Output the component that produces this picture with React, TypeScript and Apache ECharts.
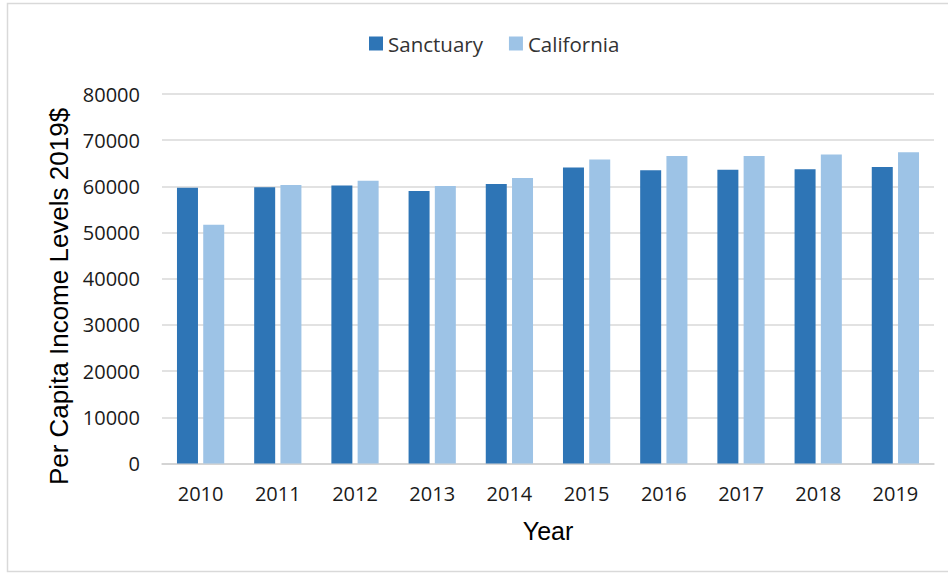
import React, { useEffect, useRef } from "react";
import * as echarts from "echarts";

const years = ["2010", "2011", "2012", "2013", "2014", "2015", "2016", "2017", "2018", "2019"];
const sanctuary = [59700, 59800, 60200, 59000, 60500, 64100, 63500, 63600, 63700, 64200];
const california = [51700, 60300, 61200, 60100, 61800, 65800, 66600, 66600, 66900, 67400];
const yTicks = { min: 0, max: 80000, interval: 10000 };
const yTitle = "Per Capita Income Levels 2019$";
const xTitle = "Year";

const FONT = "'Open Sans', 'Liberation Sans', Arial, sans-serif";
const TITLE_FONT = "'Liberation Sans', Arial, sans-serif";

export default function App() {
  const ref = useRef<HTMLDivElement>(null);
  useEffect(() => {
    document.body.style.margin = "0";
    const chart = echarts.init(ref.current!, null, { renderer: "svg" });
    chart.setOption({
      animation: false,
      backgroundColor: "#ffffff",
      textStyle: { fontFamily: FONT },
      legend: {
        top: 28,
        left: 364,
        itemWidth: 14,
        itemHeight: 14,
        itemGap: 26,
        icon: "rect",
        textStyle: { fontSize: 20.5, color: "#333333", fontFamily: FONT },
        data: ["Sanctuary", "California"],
      },
      graphic: [
        {
          type: "rect",
          shape: { x: 7.5, y: 3.5, width: 960, height: 568 },
          style: { fill: "none", stroke: "#d9d9d9", lineWidth: 1.5 },
          silent: true,
        },
        {
          type: "text",
          x: 59,
          y: 296.5,
          rotation: Math.PI / 2,
          style: {
            text: yTitle,
            fontSize: 26,
            fontFamily: TITLE_FONT,
            fill: "#000000",
            align: "center",
            verticalAlign: "middle",
          },
          silent: true,
        },
      ],
      grid: { left: 162, right: 14, top: 94, bottom: 111.5, containLabel: false },
      xAxis: {
        type: "category",
        data: years,
        name: xTitle,
        nameLocation: "middle",
        nameGap: 55,
        nameTextStyle: { fontSize: 25, color: "#000000", fontFamily: TITLE_FONT, verticalAlign: "top" },
        axisLine: { lineStyle: { color: "#d0d0d0", width: 1.5 } },
        axisTick: { show: false },
        axisLabel: { fontSize: 20, color: "#1a1a1a", margin: 20, fontFamily: FONT },
      },
      yAxis: {
        type: "value",
        min: yTicks.min,
        max: yTicks.max,
        interval: yTicks.interval,
        axisLine: { show: false },
        axisTick: { show: false },
        splitLine: { lineStyle: { color: "#d9d9d9", width: 1.5 } },
        axisLabel: {
          fontSize: 20,
          color: "#1a1a1a",
          margin: 22,
          fontFamily: FONT,
          formatter: (v: number) => String(v),
        },
      },
      series: [
        {
          name: "Sanctuary",
          type: "bar",
          data: sanctuary,
          itemStyle: { color: "#2e75b6" },
          barWidth: 21,
          barGap: "25%",
        },
        {
          name: "California",
          type: "bar",
          data: california,
          itemStyle: { color: "#9dc3e6" },
          barWidth: 21,
          barGap: "25%",
        },
      ],
    });
    return () => chart.dispose();
  }, []);
  return <div ref={ref} style={{ width: 948, height: 575, position: "absolute", left: 0, top: 0 }} />;
}
